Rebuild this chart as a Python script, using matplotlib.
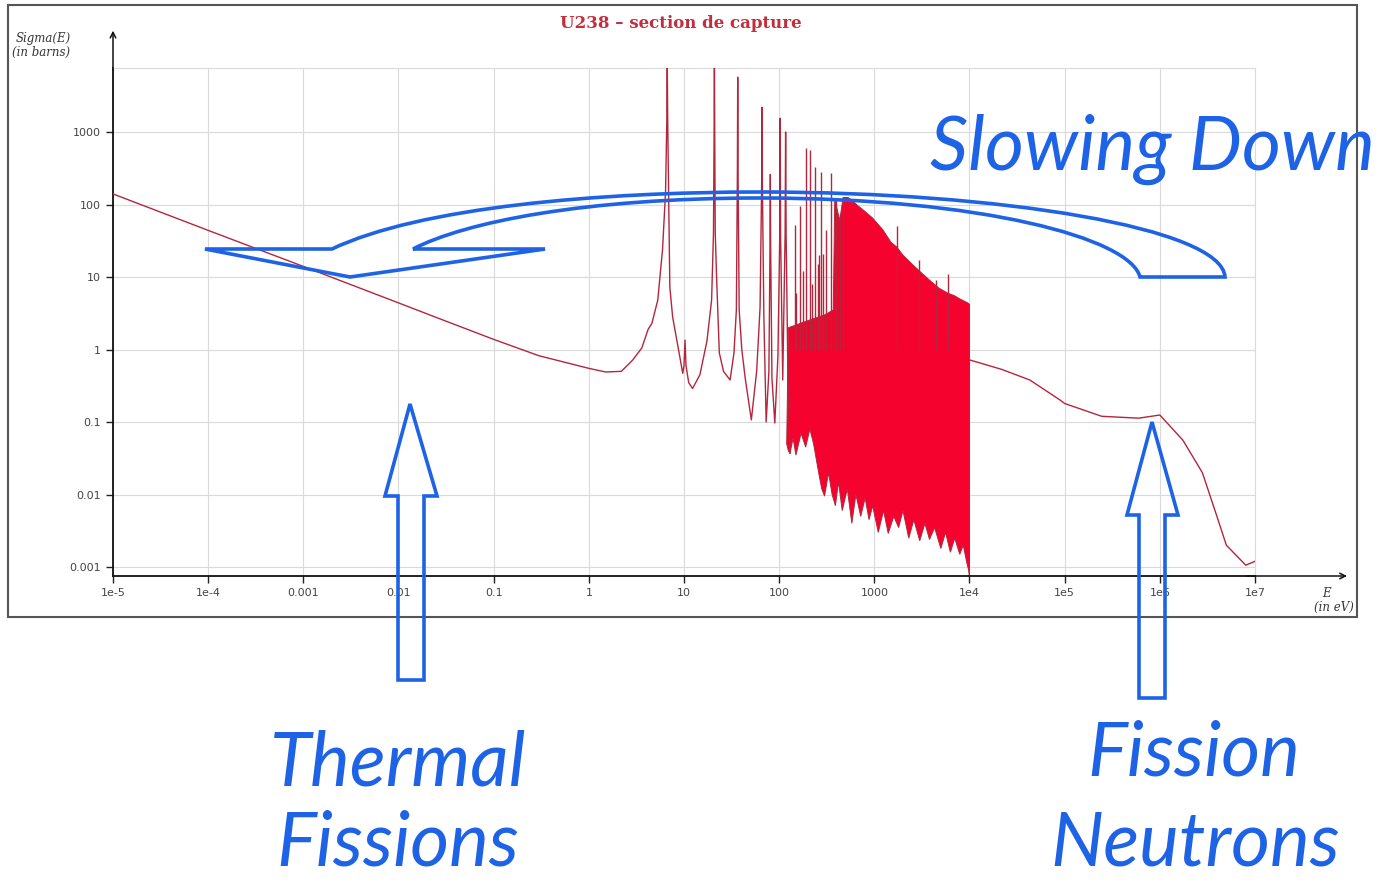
import matplotlib
matplotlib.use("Agg")
import matplotlib.pyplot as plt
from matplotlib.patches import PathPatch, Polygon, Rectangle
from matplotlib.path import Path

# ---- data (E in eV, sigma in barns) ----
# thermal 1/v part + first resolved resonances
line_E = [1e-5, 1e-4, 1e-3, 0.01, 0.0253, 0.1, 0.3, 1.0, 1.5, 2.2, 2.9, 3.6, 4.2, 4.6,
          5.3, 5.95, 6.4, 6.6, 6.67, 6.74, 6.95, 7.1, 7.6, 8.4, 9.7, 10.0, 10.25, 10.5,
          11.2, 12.3, 14.7, 17.4, 19.5, 20.4, 20.7, 20.87, 21.05, 21.3, 22.0, 23.5, 26.0,
          30.5, 33.5, 35.5, 36.4, 36.68, 36.95, 38.0, 40.5, 44.0, 51.0, 58.0, 63.0, 65.5,
          66.03, 66.6, 69.0, 73.0, 78.0, 80.2, 80.75, 81.3, 84.0, 90.0, 97.0, 101.5,
          102.5, 103.5, 109.0, 115.5, 116.9, 118.3, 124.0, 130.0]
line_sigma = [140, 44, 14, 4.4, 2.75, 1.38, 0.82, 0.55, 0.49, 0.5, 0.72, 1.05, 1.9, 2.3,
              4.8, 24, 150, 1500, 9000, 1500, 60, 7.2, 2.8, 1.35, 0.47, 0.6, 1.35, 0.6,
              0.35, 0.29, 0.45, 1.3, 4.8, 40, 800, 9000, 800, 40, 10, 0.9, 0.5,
              0.38, 0.9, 3.5, 300, 5700, 300, 3.5, 1.0, 0.4, 0.107, 0.5, 3.8, 200,
              2200, 200, 3.0, 0.1, 0.5, 30, 260, 30, 0.4, 0.097, 0.8, 40,
              1550, 40, 0.38, 40, 1000, 40, 0.3, 0.037]

# resonance spikes standing above the dense band
res_E = [145.7, 152, 165.3, 176, 189.7, 208.5, 220, 237.4, 255, 264, 273.7, 291, 311,
         347.8, 397.6, 434, 470, 1718, 2950, 4500, 5900]
res_peak = [52, 6, 94, 12, 610, 560, 8, 330, 15, 20, 280, 21, 45,
            270, 120, 75, 125, 50, 17, 9, 11]

# dense resonance band: upper edge and (jagged) lower edge
band_E = [120, 125, 200, 300, 370, 384, 433, 470, 530, 600, 680, 800, 960, 1225, 1500,
          1718, 2000, 2500, 3000, 3820, 4800, 5900, 7000, 7890, 9570, 10000]
band_top = [0.05, 2.0, 2.5, 3.0, 3.5, 120, 60, 125, 125, 110, 95, 80, 65, 45, 30,
            26, 20, 15, 12, 9, 7, 6, 5.5, 5, 4.4, 4.2]
bot_E = [120, 125, 130, 140, 150, 170, 190, 210, 230, 260, 280, 300, 330, 360, 390, 420,
         460, 520, 580, 640, 720, 800, 880, 960, 1100, 1250, 1400, 1600, 1800, 2000,
         2300, 2600, 3000, 3400, 3800, 4300, 5000, 5600, 6300, 7000, 7900, 8600, 9300,
         9800, 10000]
bot_sigma = [0.05, 0.04, 0.037, 0.06, 0.035, 0.07, 0.045, 0.08, 0.05, 0.02, 0.012,
             0.0095, 0.02, 0.01, 0.007, 0.015, 0.006, 0.012, 0.004, 0.01, 0.005, 0.009,
             0.0045, 0.007, 0.003, 0.006, 0.0029, 0.005, 0.0035, 0.006, 0.0025, 0.0045,
             0.0023, 0.004, 0.0024, 0.0035, 0.0018, 0.003, 0.0016, 0.0025, 0.0015,
             0.002, 0.0012, 0.0009, 0.0007]

# fast region
fast_E = [1e4, 2.2e4, 4.3e4, 9e4, 1e5, 2.45e5, 6e5, 1e6, 1.75e6, 2.8e6, 4e6, 5e6, 8e6, 1e7]
fast_sigma = [0.72, 0.53, 0.38, 0.2, 0.18, 0.12, 0.113, 0.125, 0.056, 0.02, 0.0049,
              0.002, 0.00106, 0.0012]

xticks = [1e-5, 1e-4, 1e-3, 1e-2, 1e-1, 1, 10, 100, 1000, 1e4, 1e5, 1e6, 1e7]
xlabels = ["1e-5", "1e-4", "0.001", "0.01", "0.1", "1", "10", "100", "1000",
           "1e4", "1e5", "1e6", "1e7"]
yticks = [1e-3, 1e-2, 1e-1, 1, 10, 100, 1000]
ylabels = ["0.001", "0.01", "0.1", "1", "10", "100", "1000"]

W, H = 1394, 886
RED_LINE = '#b3263c'
RED_FILL = '#f5022e'
BLUE = '#1e63e6'


def px(x, y):
    # pixel position -> figure fraction
    return (x / W, 1 - y / H)


fig = plt.figure(figsize=(W / 100, H / 100), dpi=100)
fig.patch.set_facecolor('white')

l, b = px(113, 576)
r, t = px(1255, 68)
ax = fig.add_axes([l, b, r - l, t - b])
ax.set_xscale('log')
ax.set_yscale('log')
ax.set_xlim(1e-5, 1e7)
ax.set_ylim(7.52e-4, 7640)

# band drawn as one polygon: top edge left->right, bottom edge right->left
ax.fill(band_E + bot_E[::-1], band_top + bot_sigma[::-1], fc=RED_FILL, ec=RED_LINE,
        lw=0.7, zorder=2)
ax.vlines(res_E, 1.0, res_peak, color=RED_LINE, lw=1.0, zorder=3)
ax.plot(line_E, line_sigma, color=RED_LINE, lw=1.0, zorder=3)
ax.plot(fast_E, fast_sigma, color=RED_LINE, lw=1.0, zorder=3)

ax.set_xticks(xticks)
ax.set_xticklabels(xlabels)
ax.set_yticks(yticks)
ax.set_yticklabels(ylabels)
ax.minorticks_off()
ax.tick_params(direction='out', length=5, width=1, colors='#222', labelsize=8,
               labelcolor='#444', pad=4)
ax.grid(True, color='#dadada', lw=0.8)
ax.set_axisbelow(True)
for s in ['top', 'right']:
    ax.spines[s].set_color('#dadada')
    ax.spines[s].set_linewidth(0.8)
for s in ['left', 'bottom']:
    ax.spines[s].set_color('#111')
    ax.spines[s].set_linewidth(1.3)

# axis arrows
ax.annotate('', xy=(1.083, 0), xytext=(0.99, 0), xycoords='axes fraction',
            arrowprops=dict(arrowstyle='->', color='#111', lw=1.1), annotation_clip=False)
ax.annotate('', xy=(0, 1.079), xytext=(0, 0.99), xycoords='axes fraction',
            arrowprops=dict(arrowstyle='->', color='#111', lw=1.1), annotation_clip=False)

# axis names and title
lab = dict(family='DejaVu Serif', style='italic', fontsize=8.5, color='#333',
           va='baseline')
fig.text(*px(16, 42), 'Sigma(E)', **lab)
fig.text(*px(12, 56), '(in barns)', **lab)
fig.text(*px(1322, 597), 'E', **lab)
fig.text(*px(1314, 611), '(in eV)', **lab)
fig.text(*px(681, 28), 'U238 – section de capture', family='DejaVu Serif',
         fontweight='bold', fontsize=12, color='#c42d3c', ha='center', va='baseline')

# outer frame of the pasted chart
fx, fy = px(8, 617)
fx2, fy2 = px(1357, 5)
fig.patches.append(Rectangle((fx, fy), fx2 - fx, fy2 - fy, transform=fig.transFigure,
                             fill=False, ec='#555', lw=1.5))


# blue outline arrows
def up_arrow(xl, xr, hl, hr, tip_x, tip_y, base_y, bottom_y):
    pts = [px(xl, bottom_y), px(xl, base_y), px(hl, base_y), px(tip_x, tip_y),
           px(hr, base_y), px(xr, base_y), px(xr, bottom_y)]
    return Polygon(pts, closed=True, fill=False, ec=BLUE, lw=2.6,
                   transform=fig.transFigure, joinstyle='miter')


fig.patches.append(up_arrow(398, 424, 385, 437, 410, 404, 496, 680))
fig.patches.append(up_arrow(1139, 1165, 1127, 1178, 1152, 422, 515, 698))

verts = [px(205, 249), px(332, 249),
         px(420, 207), px(600, 192), px(760, 192),
         px(1000, 192), px(1222, 228), px(1225, 277),
         px(1140, 277),
         px(1130, 238), px(980, 198), px(760, 198),
         px(585, 198), px(465, 222), px(413, 249),
         px(545, 249), px(350, 277), px(205, 249)]
codes = [Path.MOVETO, Path.LINETO,
         Path.CURVE4, Path.CURVE4, Path.CURVE4,
         Path.CURVE4, Path.CURVE4, Path.CURVE4,
         Path.LINETO,
         Path.CURVE4, Path.CURVE4, Path.CURVE4,
         Path.CURVE4, Path.CURVE4, Path.CURVE4,
         Path.LINETO, Path.LINETO, Path.CLOSEPOLY]
fig.patches.append(PathPatch(Path(verts, codes), fill=False, ec=BLUE, lw=2.6,
                             transform=fig.transFigure, joinstyle='miter'))

# blue captions
cap = dict(family='Lato', style='italic', fontsize=54, color=BLUE, ha='center',
           va='baseline')
fig.text(*px(1152, 170), 'Slowing Down', **cap)
fig.text(*px(398, 785), 'Thermal', **cap)
fig.text(*px(398, 866), 'Fissions', **cap)
fig.text(*px(1194, 776), 'Fission', **cap)
fig.text(*px(1195, 866), 'Neutrons', **cap)

fig.savefig('out.png', dpi=100)
